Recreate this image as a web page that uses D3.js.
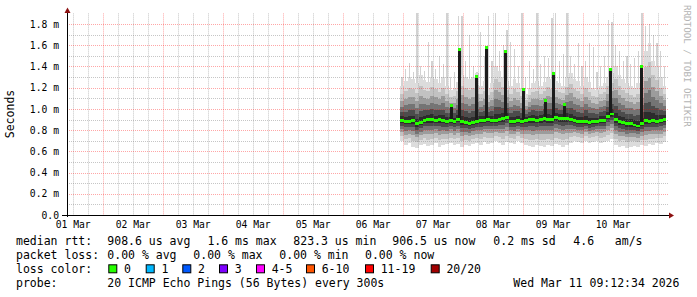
<!DOCTYPE html>
<html>
<head>
<meta charset="utf-8">
<script src="https://cdn.jsdelivr.net/npm/d3@7"></script>
<style>
  html, body { margin: 0; padding: 0; background: #fff; }
  svg { display: block; font-family: 'DejaVu Sans Mono', monospace; }
  text { white-space: pre; }
</style>
</head>
<body>
<div id="chart"></div>
<script>
// smokeping style graph: 10 days of ping rtt, smoke + median colored by loss

const W = 697, H = 297;
const PLOT = { left: 67, right: 667, top: 13.4, bottom: 215 };

// time window of the graph and of the data columns
const windowStart = new Date(2026, 2, 1, 9, 43);
const windowEnd = new Date(2026, 2, 11, 9, 43);
const firstColumn = new Date(2026, 2, 6, 23, 0);
const STEP_MIN = 90;

// per column values in ms
const median = [
  0.89, 0.88, 0.88, 0.89, 0.86, 0.87, 0.89, 0.90, 0.90, 0.89,
  0.90, 0.89, 0.88, 0.89, 0.88, 0.90, 0.88, 0.87, 0.86, 0.87,
  0.88, 0.89, 0.89, 0.90, 0.89, 0.89, 0.90, 0.91, 0.92, 0.88,
  0.88, 0.89, 0.88, 0.89, 0.90, 0.90, 0.89, 0.90, 0.91, 0.90,
  0.90, 0.92, 0.91, 0.91, 0.91, 0.90, 0.89, 0.88, 0.88, 0.88,
  0.87, 0.88, 0.88, 0.89, 0.89, 0.93, 0.95, 0.90, 0.88, 0.87,
  0.86, 0.86, 0.85, 0.84, 0.86, 0.89, 0.88, 0.89, 0.88, 0.89,
  0.90
];
const minRtt = [
  0.70, 0.66, 0.68, 0.64, 0.63, 0.66, 0.67, 0.65, 0.66, 0.68,
  0.64, 0.66, 0.67, 0.68, 0.66, 0.67, 0.64, 0.66, 0.65, 0.67,
  0.68, 0.66, 0.69, 0.67, 0.68, 0.70, 0.68, 0.66, 0.69, 0.68,
  0.67, 0.70, 0.68, 0.66, 0.65, 0.64, 0.66, 0.65, 0.64, 0.66,
  0.65, 0.67, 0.66, 0.64, 0.66, 0.68, 0.70, 0.69, 0.68, 0.70,
  0.68, 0.69, 0.70, 0.68, 0.69, 0.70, 0.72, 0.66, 0.64, 0.65,
  0.63, 0.64, 0.65, 0.64, 0.66, 0.65, 0.67, 0.66, 0.68, 0.67,
  0.69
];
// top of the dense part of the smoke
const upperRtt = [
  1.22, 1.26, 1.30, 1.28, 1.24, 1.32, 1.27, 1.25, 1.30, 1.28,
  1.24, 1.30, 1.22, 1.18, 1.20, 1.25, 1.32, 1.30, 1.28, 1.30,
  1.34, 1.22, 1.26, 1.20, 1.24, 1.40, 1.36, 1.30, 1.26, 1.22,
  1.28, 1.24, 1.20, 1.14, 1.20, 1.24, 1.26, 1.22, 1.25, 1.30,
  1.28, 1.26, 1.24, 1.22, 1.30, 1.34, 1.28, 1.26, 1.22, 1.30,
  1.25, 1.20, 1.18, 1.22, 1.24, 1.30, 1.34, 1.40, 1.32, 1.28,
  1.24, 1.22, 1.20, 1.24, 1.30, 1.55, 1.62, 1.45, 1.40, 1.30,
  1.22
];
const maxRtt = [
  1.30, 1.38, 1.43, 1.35, 1.90, 1.40, 1.36, 1.63, 1.45, 1.38,
  1.50, 1.42, 1.90, 1.30, 1.35, 1.88, 1.88, 1.45, 1.70, 1.40,
  1.35, 1.72, 1.50, 1.88, 1.45, 1.90, 1.55, 1.60, 1.74, 1.63,
  1.56, 1.40, 1.90, 1.30, 1.45, 1.38, 1.90, 1.42, 1.50, 1.48,
  1.86, 1.90, 1.45, 1.52, 1.90, 1.50, 1.42, 1.62, 1.40, 1.45,
  1.62, 1.58, 1.35, 1.40, 1.50, 1.84, 1.82, 1.60, 1.55, 1.45,
  1.50, 1.42, 1.48, 1.55, 1.90, 1.78, 1.80, 1.70, 1.62, 1.55,
  1.40
];

// short median jumps
const spikeTimes = [
  '2026-03-07 19:19', '2026-03-07 22:31', '2026-03-08 05:20', '2026-03-08 09:19',
  '2026-03-08 16:55', '2026-03-09 00:19', '2026-03-09 09:12', '2026-03-09 12:24',
  '2026-03-09 16:31', '2026-03-10 10:55', '2026-03-10 23:20'
];
const spikeValues = [1.03, 1.56, 1.31, 1.58, 1.54, 1.18, 1.08, 1.33, 1.04, 1.37, 1.40];

const yTicks = [0, 0.2, 0.4, 0.6, 0.8, 1.0, 1.2, 1.4, 1.6, 1.8];

const rttLegend = ['908.6 us avg', '1.6 ms max', '823.3 us min', '906.5 us now', '0.2 ms sd', '4.6   am/s'];
const rttLegendX = [107.3, 207.4, 293.3, 392.3, 493.3, 573.3];
const lossLegend = ['0.00 % avg', '0.00 % max', '0.00 % min', '0.00 % now'];
const lossLegendX = [107.3, 193.3, 279.3, 365];
const lossLabels = ['0', '1', '2', '3', '4-5', '6-10', '11-19', '20/20'];
const lossColors = ['#26ff00', '#00b8ff', '#0059ff', '#7e00ff', '#ff00ff', '#ff5500', '#ff0000', '#a10000'];
const lossBoxX = [108.3, 145.7, 182.3, 219, 256, 306, 365, 430.7];
const probeText = '20 ICMP Echo Pings (56 Bytes) every 300s';
const stampText = 'Wed Mar 11 09:12:34 2026';

const parseT = d3.timeParse('%Y-%m-%d %H:%M');

const svg = d3.select('#chart').append('svg')
  .attr('width', W)
  .attr('height', H);

svg.append('rect').attr('width', W).attr('height', H).attr('fill', '#fff');

const x = d3.scaleTime().domain([windowStart, windowEnd]).range([PLOT.left, PLOT.right]);
const y = d3.scaleLinear().domain([0, 1.9]).range([PLOT.bottom, PLOT.top]);

const cols = median.map((m, i) => {
  const t0 = d3.timeMinute.offset(firstColumn, i * STEP_MIN);
  return { t0, t1: d3.timeMinute.offset(t0, STEP_MIN), med: m, lo: minRtt[i], up: upperRtt[i], hi: maxRtt[i] };
});

// smoke, widest band first
const bands = [
  { f: 1.0, c: '#dcdcdc' },
  { f: 0.76, c: '#c2c2c2' },
  { f: 0.56, c: '#9c9c9c' },
  { f: 0.40, c: '#747474' },
  { f: 0.25, c: '#4c4c4c' },
  { f: 0.12, c: '#2c2c2c' }
];

const smoke = svg.append('g').attr('shape-rendering', 'crispEdges');

smoke.selectAll('rect.streak')
  .data(cols)
  .join('rect')
  .attr('class', 'streak')
  .attr('x', d => (x(d.t0) + x(d.t1)) / 2 - 0.6)
  .attr('width', 1.2)
  .attr('y', d => y(d.hi))
  .attr('height', d => y(d.up) - y(d.hi))
  .attr('fill', '#d2d2d2');

bands.forEach(b => {
  smoke.append('g')
    .selectAll('rect')
    .data(cols)
    .join('rect')
    .attr('x', d => x(d.t0))
    .attr('width', d => x(d.t1) - x(d.t0))
    .attr('y', d => y(d.med + (d.up - d.med) * b.f))
    .attr('height', d => y(d.med - (d.med - d.lo) * b.f) - y(d.med + (d.up - d.med) * b.f))
    .attr('fill', b.c);
});

// grid
const grid = svg.append('g').attr('stroke-dasharray', '1,1').attr('stroke-width', 1);
const hMinor = d3.range(1, 18, 2).map(i => i / 10);
const hMajor = yTicks.filter(v => v > 0);

grid.selectAll('line.hmin')
  .data(hMinor)
  .join('line')
  .attr('x1', PLOT.left).attr('x2', PLOT.right + 2)
  .attr('y1', d => Math.round(y(d)) + 0.5).attr('y2', d => Math.round(y(d)) + 0.5)
  .attr('stroke', 'rgba(128,128,128,0.45)');

const days = d3.timeDay.range(d3.timeDay.ceil(windowStart), windowEnd);
const sixHours = d3.timeHour.every(6).range(windowStart, windowEnd).filter(d => d.getHours() !== 0);

grid.selectAll('line.vmin')
  .data(sixHours)
  .join('line')
  .attr('x1', d => Math.round(x(d)) + 0.5).attr('x2', d => Math.round(x(d)) + 0.5)
  .attr('y1', PLOT.top).attr('y2', PLOT.bottom)
  .attr('stroke', 'rgba(128,128,128,0.45)');

grid.selectAll('line.hmaj')
  .data(hMajor)
  .join('line')
  .attr('x1', PLOT.left).attr('x2', PLOT.right + 2)
  .attr('y1', d => Math.round(y(d)) + 0.5).attr('y2', d => Math.round(y(d)) + 0.5)
  .attr('stroke', 'rgba(255,0,0,0.35)');

grid.selectAll('line.vmaj')
  .data(days)
  .join('line')
  .attr('x1', d => Math.round(x(d)) + 0.5).attr('x2', d => Math.round(x(d)) + 0.5)
  .attr('y1', PLOT.top).attr('y2', PLOT.bottom)
  .attr('stroke', 'rgba(255,0,0,0.35)');

// median jumps
const spikes = spikeTimes.map((s, i) => {
  const t = parseT(s);
  const k = Math.floor((t - firstColumn) / (STEP_MIN * 60000));
  return { t, v: spikeValues[i], base: median[k] };
});

svg.append('g').attr('shape-rendering', 'crispEdges')
  .selectAll('rect')
  .data(spikes)
  .join('rect')
  .attr('x', d => x(d.t) - 1.5)
  .attr('width', 3)
  .attr('y', d => y(d.v))
  .attr('height', d => y(d.base) - y(d.v))
  .attr('fill', '#1c1c1c');

// median, loss 0 color
const med = svg.append('g').attr('fill', lossColors[0]).attr('shape-rendering', 'crispEdges');
med.selectAll('rect.m')
  .data(cols)
  .join('rect')
  .attr('x', d => x(d.t0))
  .attr('width', d => x(d.t1) - x(d.t0))
  .attr('y', d => y(d.med) - 1.25)
  .attr('height', 2.5);

med.selectAll('rect.s')
  .data(spikes)
  .join('rect')
  .attr('class', 's')
  .attr('x', d => x(d.t) - 1.5)
  .attr('width', 3)
  .attr('y', d => y(d.v) - 1.5)
  .attr('height', 3);

// axes
const xAxis = d3.axisBottom(x)
  .tickValues(d3.timeDay.range(d3.timeDay.floor(windowStart), windowEnd)
    .map(d => d3.timeHour.offset(d, 12))
    .filter(d => d < windowEnd))
  .tickFormat(d3.timeFormat('%d %b'))
  .tickSize(0)
  .tickPadding(6);

svg.append('g')
  .attr('transform', `translate(0,${PLOT.bottom})`)
  .call(xAxis)
  .call(g => g.select('.domain').remove())
  .call(g => g.selectAll('text')
    .attr('font-family', "'DejaVu Sans Mono', monospace")
    .attr('font-size', '9.7px')
    .attr('fill', '#000'));

const yAxis = d3.axisLeft(y)
  .tickValues(yTicks)
  .tickFormat(d => d === 0 ? '0.0' : d3.format('.1f')(d) + ' m')
  .tickSize(0)
  .tickPadding(8);

svg.append('g')
  .attr('transform', `translate(${PLOT.left},0)`)
  .call(yAxis)
  .call(g => g.select('.domain').remove())
  .call(g => g.selectAll('text')
    .attr('font-family', "'DejaVu Sans Mono', monospace")
    .attr('font-size', '9.7px')
    .attr('fill', '#000'));

// axis lines with arrows
const axisG = svg.append('g');
axisG.append('line')
  .attr('x1', PLOT.left - 5).attr('x2', PLOT.right + 2)
  .attr('y1', PLOT.bottom + 0.5).attr('y2', PLOT.bottom + 0.5)
  .attr('stroke', '#000');
axisG.append('line')
  .attr('x1', PLOT.left + 0.5).attr('x2', PLOT.left + 0.5)
  .attr('y1', PLOT.bottom + 2).attr('y2', PLOT.top - 1)
  .attr('stroke', '#000');
axisG.append('path')
  .attr('d', `M${PLOT.right + 2},${PLOT.bottom - 2.5}L${PLOT.right + 7},${PLOT.bottom + 0.5}L${PLOT.right + 2},${PLOT.bottom + 3.5}Z`)
  .attr('fill', '#8c1010');
axisG.append('path')
  .attr('d', `M${PLOT.left - 2.5},${PLOT.top - 0.5}L${PLOT.left + 0.5},${PLOT.top - 6}L${PLOT.left + 3.5},${PLOT.top - 0.5}Z`)
  .attr('fill', '#8c1010');

// titles
svg.append('text')
  .attr('transform', 'translate(14,114) rotate(-90)')
  .attr('text-anchor', 'middle')
  .attr('font-size', '11.5px')
  .attr('fill', '#000')
  .text('Seconds');

svg.append('text')
  .attr('transform', 'translate(684,5) rotate(90)')
  .attr('font-size', '9.2px')
  .attr('fill', '#b4b4b4')
  .text('RRDTOOL / TOBI OETIKER');

// legend
const legend = svg.append('g').attr('font-size', '11.5px').attr('fill', '#000');
const rows = [245, 259.3, 273.3, 287.3];

legend.append('text').attr('x', 16).attr('y', rows[0]).text('median rtt:');
legend.selectAll('text.rtt')
  .data(rttLegend)
  .join('text')
  .attr('class', 'rtt')
  .attr('x', (d, i) => rttLegendX[i])
  .attr('y', rows[0])
  .text(d => d);

legend.append('text').attr('x', 16).attr('y', rows[1]).text('packet loss:');
legend.selectAll('text.loss')
  .data(lossLegend)
  .join('text')
  .attr('class', 'loss')
  .attr('x', (d, i) => lossLegendX[i])
  .attr('y', rows[1])
  .text(d => d);

legend.append('text').attr('x', 16).attr('y', rows[2]).text('loss color:');
const items = legend.selectAll('g.item')
  .data(lossLabels)
  .join('g')
  .attr('class', 'item')
  .attr('transform', (d, i) => `translate(${lossBoxX[i]},0)`);
items.append('rect')
  .attr('x', 0.5).attr('y', rows[2] - 8.5)
  .attr('width', 8).attr('height', 8)
  .attr('fill', (d, i) => lossColors[i])
  .attr('stroke', '#000');
items.append('text')
  .attr('x', 15.7)
  .attr('y', rows[2])
  .text(d => d);

legend.append('text').attr('x', 16).attr('y', rows[3]).text('probe:');
legend.append('text').attr('x', 107.3).attr('y', rows[3]).text(probeText);
legend.append('text').attr('x', 513.3).attr('y', rows[3]).text(stampText);
</script>
</body>
</html>
